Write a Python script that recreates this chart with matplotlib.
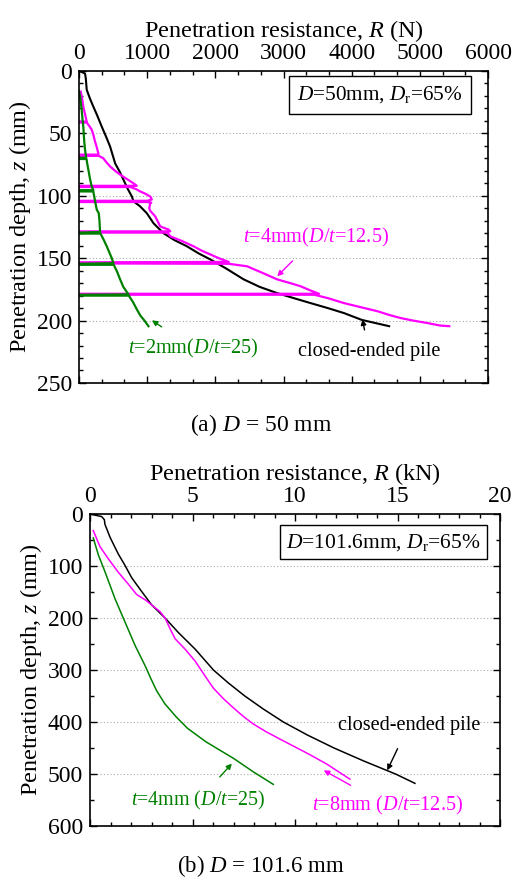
import matplotlib
matplotlib.use("Agg")
import matplotlib.pyplot as plt
from matplotlib.ticker import MultipleLocator

plt.rcParams["font.family"] = ["Liberation Serif", "DejaVu Serif"]
plt.rcParams["mathtext.fontset"] = "custom"
plt.rcParams["mathtext.rm"] = "Liberation Serif"
plt.rcParams["mathtext.it"] = "Liberation Serif:italic"

MAGENTA = "#FF00FF"
GREEN = "#008000"

# ---- (a) D = 50 mm : resistance in N, depth in mm ----
a_closed_R = [0, 40, 88, 100, 113, 160, 210, 270, 333, 400, 456, 530, 600, 651, 710, 775,
              800, 850, 897, 995, 1093, 1240, 1400, 1584, 1750, 1926, 2150, 2416, 2650,
              2907, 3150, 3397, 3650, 3887, 4150, 4549]
a_closed_z = [0, 0.8, 2, 6, 15, 22, 28.5, 36, 44.5, 53, 60.5, 74, 81, 87, 94, 100.5,
              104.5, 106.5, 108.5, 114, 122, 130, 135.5, 140.5, 146, 151, 158, 167, 173,
              178, 182, 186, 190, 194, 199.5, 204.5]

a_t4_R = [25, 45, 63, 90, 113, 0, 0, 113, 150, 186, 210, 235, 260, 284, 284, 0, 0, 290,
          357, 400, 456, 530, 603, 700, 800, 848, 0, 0, 760, 850, 897, 960, 1044, 1068,
          1000, 0, 0, 1000, 1060, 1044, 1030, 1044, 1118, 1191, 1260, 1313, 1338, 0, 0,
          1300, 1338, 1500, 1681, 1800, 1926, 2050, 2196, 0, 0, 2200, 2466, 2700, 2907,
          3100, 3250, 3400, 3520, 0, 0, 3450, 3650, 3887, 4150, 4378, 4550, 4721, 4900,
          5113, 5300, 5431]
a_t4_z = [16.5, 22, 28.5, 35, 40.5, 40.5, 41.3, 41.3, 44, 47, 51, 56.5, 61, 66, 67, 67, 68, 68,
          70, 73, 76.5, 80, 83, 86.5, 90, 92, 92, 93, 93, 95, 96.5, 98, 100.5, 103,
          104, 104, 105, 105, 105.5, 106, 110, 112, 116.5, 124.5, 126, 127, 128.5, 128.5, 129.5,
          129.5, 132.5, 136, 140.5, 144, 147, 150, 153, 153.3, 154.2, 154.5, 156.5, 162, 167,
          170, 172.5, 176, 178.5, 178.5, 179.3, 179.3, 182, 186, 189.5, 192.5, 195.5, 198, 200,
          202, 204, 204.5]

a_t2_R = [0, 20, 39, 50, 63, 75, 88, 105, 0, 0, 110, 120, 137, 160, 186, 210, 0, 0, 210,
          215, 235, 260, 290, 300, 309, 0, 0, 315, 360, 407, 450, 480, 505, 0, 0, 510, 560,
          603, 650, 700, 725, 0, 0, 730, 790, 848, 900, 960, 1019]
a_t2_z = [16, 22, 31, 38, 44.5, 55, 63, 69.5, 69.5, 70.5, 70.5, 74, 79, 86, 92.5, 95.5, 95.5, 96.5, 96.5,
          98, 104, 111, 114, 120, 129, 129.5, 130.3, 130.3, 135, 140.5, 146, 150, 154, 154.5,
          155.3, 155.3, 161, 167, 173, 177, 179, 179.3, 180, 180, 185, 191, 196, 200, 204.5]

# ---- (b) D = 101.6 mm : resistance in kN, depth in mm ----
b_closed_R = [0, 0.57, 0.7, 0.73, 0.98, 1.38, 1.68, 2.04, 2.52, 3.01, 3.66, 4.31, 5.13,
              6.02, 6.75, 7.55, 8.45, 9.43, 10.6, 11.9, 13.35, 14.9, 15.85]
b_closed_z = [0, 5, 11, 20, 45, 77, 97, 123, 149, 175, 200, 228, 260,
              300, 325, 350, 375, 400, 425, 450, 475, 500, 518]

b_t8_R = [0.16, 0.49, 0.89, 1.38, 1.87, 2.28, 2.69, 3.01, 3.42, 3.66, 3.91, 4.15, 4.64, 5.13,
          5.62, 6.02, 6.5, 7.0, 7.5, 7.97, 8.6, 9.27, 10.0, 10.73, 11.55, 12.68]
b_t8_z = [32, 63, 86, 112, 135, 155, 165, 175, 188, 200, 221, 240, 260, 283,
          312, 335, 355, 373, 390, 404, 419, 433, 448, 463, 481, 510]

b_t4_R = [0.16, 0.41, 0.73, 1.22, 1.71, 2.2, 2.69, 2.95, 3.25, 3.65, 4.2, 4.75, 5.65, 7.0,
          7.97, 8.94]
b_t4_z = [46, 79, 111, 163, 208, 253, 292, 315, 340, 365, 390, 412, 438, 470,
          496, 520]


def style_axes(ax, xmax, xmaj, xmin, ymax, ymaj, ymin, xlabel):
    ax.set_xlim(0, xmax)
    ax.set_ylim(ymax, 0)
    ax.xaxis.set_major_locator(MultipleLocator(xmaj))
    ax.xaxis.set_minor_locator(MultipleLocator(xmin))
    ax.yaxis.set_major_locator(MultipleLocator(ymaj))
    ax.yaxis.set_minor_locator(MultipleLocator(ymin))
    ax.tick_params(which="both", direction="in", top=True, bottom=True, left=True, right=True,
                   labeltop=True, labelbottom=False, labelsize=17, width=1.0)
    ax.tick_params(which="major", length=5, pad=5)
    ax.tick_params(which="minor", length=3)
    ax.xaxis.set_label_position("top")
    ax.set_xlabel(xlabel, fontsize=17.5, labelpad=4)
    ax.set_ylabel("Penetration depth, $z$ (mm)", fontsize=17.5, labelpad=3)
    ax.yaxis.grid(True, which="major", linestyle=(0, (1, 2)), color="#aaaaaa", linewidth=0.8)
    for s in ax.spines.values():
        s.set_linewidth(1.2)


fig = plt.figure(figsize=(5.12, 8.8), dpi=100)

# ---------- panel (a) ----------
ax1 = fig.add_axes([0.1543, 0.5648, 0.799, 0.3545])
style_axes(ax1, 6000, 1000, 1000 / 3, 250, 50, 10, "Penetration resistance, $R$ (N)")
ax1.plot(a_closed_R, a_closed_z, color="black", lw=1.5)
ax1.plot(a_t4_R, a_t4_z, color=MAGENTA, lw=1.6)
ax1.plot(a_t2_R, a_t2_z, color=GREEN, lw=1.6)

ax1.text(0.736, 0.923, "$D$=50mm, $D_\\mathrm{r}$=65%", transform=ax1.transAxes,
         ha="center", va="center", fontsize=15.3,
         bbox=dict(boxstyle="square,pad=0.4", fc="white", ec="black", lw=1.0))

ax1.annotate("$t$=4mm($D$/$t$=12.5)", xy=(2907, 164.5), xytext=(3470, 133.6),
             color=MAGENTA, fontsize=14.6, ha="center", va="center",
             arrowprops=dict(arrowstyle="-|>", color=MAGENTA, lw=1.0, shrinkA=9, shrinkB=0,
                             mutation_scale=8))
ax1.annotate("closed-ended pile", xy=(4157, 199), xytext=(4250, 225),
             color="black", fontsize=14.6, ha="center", va="center",
             arrowprops=dict(arrowstyle="-|>", color="black", lw=1.0, shrinkA=7, shrinkB=0,
                             mutation_scale=8))
ax1.annotate("$t$=2mm($D$/$t$=25)", xy=(1069, 199.8), xytext=(1681, 222),
             color=GREEN, fontsize=14.6, ha="center", va="center",
             arrowprops=dict(arrowstyle="-|>", color=GREEN, lw=1.0, shrinkA=9, shrinkB=0,
                             mutation_scale=8))
fig.text(0.51, 1 - 425 / 880, "(a) $D$ = 50 mm", ha="center", va="center", fontsize=17)

# ---------- panel (b) ----------
ax2 = fig.add_axes([0.1758, 0.0614, 0.8008, 0.3545])
style_axes(ax2, 20, 5, 1, 600, 100, 50, "Penetration resistance, $R$ (kN)")
ax2.plot(b_closed_R, b_closed_z, color="black", lw=1.1)
ax2.plot(b_t8_R, b_t8_z, color=MAGENTA, lw=1.1)
ax2.plot(b_t4_R, b_t4_z, color=GREEN, lw=1.1)

ax2.text(0.715, 0.909, "$D$=101.6mm, $D_\\mathrm{r}$=65%", transform=ax2.transAxes,
         ha="center", va="center", fontsize=15.5,
         bbox=dict(boxstyle="square,pad=0.3", fc="white", ec="black", lw=1.0))

ax2.annotate("closed-ended pile", xy=(14.5, 493), xytext=(15.55, 406),
             color="black", fontsize=14.6, ha="center", va="center",
             arrowprops=dict(arrowstyle="-|>", color="black", lw=1.0, shrinkA=9, shrinkB=0,
                             mutation_scale=8))
ax2.annotate("$t$=4mm ($D$/$t$=25)", xy=(6.92, 480), xytext=(5.29, 551),
             color=GREEN, fontsize=14.4, ha="center", va="center",
             arrowprops=dict(arrowstyle="-|>", color=GREEN, lw=1.0, shrinkA=9, shrinkB=0,
                             mutation_scale=8))
ax2.annotate("$t$=8mm ($D$/$t$=12.5)", xy=(11.4, 493), xytext=(14.5, 561),
             color=MAGENTA, fontsize=14.6, ha="center", va="center",
             arrowprops=dict(arrowstyle="-|>", color=MAGENTA, lw=1.0, shrinkA=9, shrinkB=0,
                             mutation_scale=8))
fig.text(0.51, 1 - 866 / 880, "(b) $D$ = 101.6 mm", ha="center", va="center", fontsize=16.5)

fig.savefig("out.png", dpi=100)
